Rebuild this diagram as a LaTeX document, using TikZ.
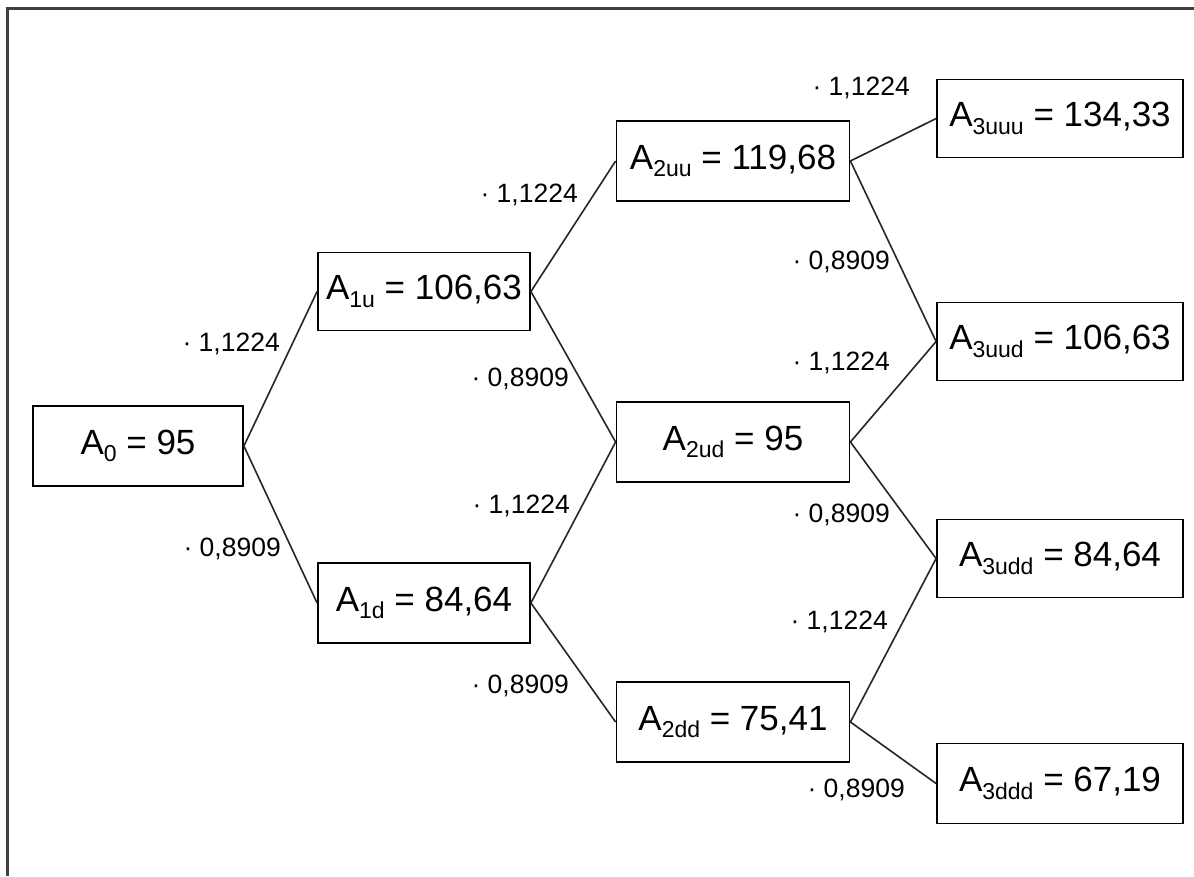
\documentclass[tikz,border=0pt]{standalone}
\usepackage{fontspec}
\setmainfont{Liberation Sans}
\newcommand{\subtxt}[1]{\raisebox{-0.22em}{\fontsize{23}{23}\selectfont #1}}
\tikzset{
    box/.style={draw, line width=1.8pt, inner sep=0pt, minimum height=80pt, font=\fontsize{35}{40}\selectfont},
    lbl/.style={anchor=east, inner sep=0pt, font=\fontsize{26.5}{30}\selectfont},
    branch/.style={line width=1.6pt, black!85},
}
\begin{document}
\begin{tikzpicture}[x=1pt, y=-1pt]
                \useasboundingbox (0,0) rectangle (1194,876);
                \fill[white] (0,0) rectangle (1194,876);
                % outer frame (only top and left edges show)
                \draw[line width=2.5pt, black!75] (1194,8.5) -- (7.5,8.5) -- (7.5,876);

                \node (a0) at (138,446) [box, minimum width=210pt] {A\subtxt{0} = 95};

                \node (a1u) at (424,291.5) [box, minimum width=212pt, minimum height=78pt] {A\subtxt{1u} = 106,63};
                \node (a1d) at (424,603) [box, minimum width=212pt] {A\subtxt{1d} = 84,64};

                \node (a2uu) at (733,161) [box, minimum width=233pt] {A\subtxt{2uu} = 119,68};
                \node (a2ud) at (733,442) [box, minimum width=233pt] {A\subtxt{2ud} = 95};
                \node (a2dd) at (733,722) [box, minimum width=233pt] {A\subtxt{2dd} = 75,41};

                \node (a3uuu) at (1060,118.5) [box, minimum width=246pt, minimum height=78pt] {A\subtxt{3uuu} = 134,33};
                \node (a3uud) at (1060,341.5) [box, minimum width=246pt, minimum height=78pt] {A\subtxt{3uud} = 106,63};
                \node (a3udd) at (1060,558.5) [box, minimum width=246pt, minimum height=78pt] {A\subtxt{3udd} = 84,64};
                \node (a3ddd) at (1060,783.5) [box, minimum width=246pt] {A\subtxt{3ddd} = 67,19};

                % branches
                \draw[branch] (a0.east) -- (a1u.west);
                \draw[branch] (a0.east) -- (a1d.west);
                \draw[branch] (a1u.east) -- (a2uu.west);
                \draw[branch] (a1u.east) -- (a2ud.west);
                \draw[branch] (a1d.east) -- (a2ud.west);
                \draw[branch] (a1d.east) -- (a2dd.west);
                \draw[branch] (a2uu.east) -- (a3uuu.west);
                \draw[branch] (a2uu.east) -- (a3uud.west);
                \draw[branch] (a2ud.east) -- (a3uud.west);
                \draw[branch] (a2ud.east) -- (a3udd.west);
                \draw[branch] (a2dd.east) -- (a3udd.west);
                \draw[branch] (a2dd.east) -- (a3ddd.west);

                % factors
                \node (f01u) at (280,344) [lbl] {· 1,1224};
                \node (f01d) at (281,549) [lbl] {· 0,8909};
                \node (f12uu) at (578,195) [lbl] {· 1,1224};
                \node (f12ud) at (569,379) [lbl] {· 0,8909};
                \node (f12du) at (570,506) [lbl] {· 1,1224};
                \node (f12dd) at (569,686) [lbl] {· 0,8909};
                \node (f23uuu) at (910,88) [lbl] {· 1,1224};
                \node (f23uud) at (890,262) [lbl] {· 0,8909};
                \node (f23udu) at (890,363) [lbl] {· 1,1224};
                \node (f23udd) at (890,515) [lbl] {· 0,8909};
                \node (f23ddu) at (888,622) [lbl] {· 1,1224};
                \node (f23ddd) at (905,790) [lbl] {· 0,8909};
\end{tikzpicture}
\end{document}
